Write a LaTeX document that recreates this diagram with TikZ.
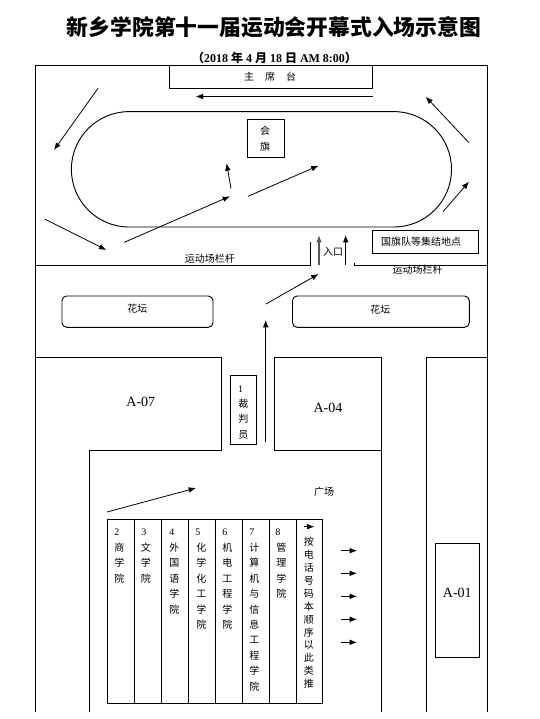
\documentclass[tikz,border=0pt]{standalone}
\usepackage{fontspec}
\setmainfont{Liberation Serif}
\newfontfamily\cjk{Noto Sans CJK SC}
\usetikzlibrary{arrows.meta}
\tikzset{
  wall/.style={draw=black,line width=0.7pt},
  boxed/.style={draw=black,line width=0.7pt},
  flow/.style={draw=black,line width=0.6pt,-{Latex[length=5.5pt,width=4.2pt]}},
  lab/.style={font=\cjk\fontsize{7.5}{9}\selectfont,inner sep=0pt},
  area/.style={font=\fontsize{10.5}{12}\selectfont,inner sep=0pt},
  num/.style={font=\fontsize{7.5}{9}\selectfont,inner sep=0pt,anchor=north west},
  stack/.style={font=\cjk\fontsize{7.5}{11.6}\selectfont,align=left,anchor=north west,inner sep=0pt},
  stackb/.style={font=\cjk\fontsize{7.5}{9.68}\selectfont,align=left,anchor=north west,inner sep=0pt}
}
\begin{document}
\begin{tikzpicture}[x=0.75pt,y=-0.75pt]
\useasboundingbox (0,0) rectangle (540,719);
% title
\node[inner sep=0pt,font=\cjk\bfseries\fontsize{16.35}{20}\selectfont] (title) at (274,27) {新乡学院第十一届运动会开幕式入场示意图};
\node[inner sep=0pt,font=\bfseries\fontsize{9}{10}\selectfont] (sub) at (274.5,57.7) {{\cjk（}2018 {\cjk 年} 4 {\cjk 月} 18 {\cjk 日} AM 8:00{\cjk ）}};
% outer walls
\draw[wall] (35.5,712) -- (35.5,65.3) -- (487,65.3) -- (487,712);
% grandstand
\draw[boxed] (169,65.3) rectangle (372.5,88.5);
\node[lab] (tai1) at (249,77) {主};
\node[lab] (tai2) at (270,77) {席};
\node[lab] (tai3) at (291,77) {台};
% track
\draw[line width=0.7pt,rounded corners=43.2pt] (71.4,111.6) rectangle (451.5,227);
% flag
\draw[boxed] (247.5,119.3) rectangle (284,157.3);
\node[lab] (qi1) at (265,131) {会};
\node[lab] (qi2) at (265,147) {旗};
% arrows in the field
\draw[flow] (372.5,96.5) -- (195.7,96.5);
\draw[flow] (98,88.3) -- (54,150);
\draw[flow] (469,142.7) -- (425.7,96.7);
\draw[flow] (231,188.7) -- (226.6,163.3);
\draw[flow] (248,196.3) -- (318.6,165.7);
\draw[flow] (124.3,242.3) -- (230,196.3);
\draw[flow] (443,211.7) -- (469,181.7);
\draw[flow] (44.6,219) -- (106.4,250);
% fence
\draw[wall] (35.5,265.3) -- (310.7,265.3) -- (310.7,242.3);
\draw[wall] (354.3,263.3) -- (354.3,265.3) -- (487,265.3);
\node[lab] (fence1) at (209.8,258.3) {运动场栏杆};
\node[lab] (fence2) at (417.5,270) {运动场栏杆};
% entrance
\draw[flow,line width=0.9pt,draw=black!65] (319,265.3) -- (319,235);
\draw[flow] (345.7,265.3) -- (345.7,235);
\node[lab] (gate) at (333,251.7) {入口};
% assembly point
\draw[boxed] (372.5,230.3) rectangle (478,253.3);
\node[lab] (assembly) at (421,241.7) {国旗队等集结地点};
% flower beds
\draw[boxed,rounded corners=3.5pt] (62,296) rectangle (213,327.3);
\draw[boxed,rounded corners=3.5pt] (292.5,296) rectangle (469.3,327.3);
\node[lab] (bed1) at (137.3,308.7) {花坛};
\node[lab] (bed2) at (380.4,309.3) {花坛};
\draw[flow] (266,304) -- (318.6,274);
\draw[flow] (265.7,442.3) -- (265.7,320);
% buildings
\draw[wall] (35.5,357.3) -- (221.8,357.3) -- (221.8,450) -- (89,450) -- (89,712);
\draw[wall] (381,712) -- (381,357.3) -- (274.6,357.3) -- (274.6,450) -- (381,450);
\draw[wall] (426,712) -- (426,357.3) -- (487,357.3);
\node[area] (a07) at (140.8,402) {A-07};
\node[area] (a04) at (327.9,408.3) {A-04};
\draw[boxed] (435.3,543.3) rectangle (479.3,657.3);
\node[area] (a01) at (457.3,593.3) {A-01};
% referee
\draw[boxed] (230.7,375.3) rectangle (256.8,444.7);
\node[num] (n1) at (237.8,385.5) {1};
\node[stack] (c1) at (238,398.5) {裁\\判\\员};
% square
\node[lab] (square) at (324,492) {广场};
\draw[flow] (107,512) -- (196,488);
% table
\draw[boxed] (107,519.3) rectangle (322,703.3);
\foreach \x in {134.3,161.5,188,215,242.3,269,296}{\draw[boxed] (\x,519.3) -- (\x,703.3);}
\node[num] (n2) at (114,529) {2};
\node[stack] (c2) at (114,542.5) {商\\学\\院};
\node[num] (n3) at (141,529) {3};
\node[stack] (c3) at (140.5,542.5) {文\\学\\院};
\node[num] (n4) at (169,529) {4};
\node[stack] (c4) at (169,542.5) {外\\国\\语\\学\\院};
\node[num] (n5) at (195,529) {5};
\node[stack] (c5) at (196,542.5) {化\\学\\化\\工\\学\\院};
\node[num] (n6) at (222,529) {6};
\node[stack] (c6) at (222,542.5) {机\\电\\工\\程\\学\\院};
\node[num] (n7) at (249,529) {7};
\node[stack] (c7) at (249,542.5) {计\\算\\机\\与\\信\\息\\工\\程\\学\\院};
\node[num] (n8) at (275,529) {8};
\node[stack] (c8) at (276,542.5) {管\\理\\学\\院};
\coordinate (t1) at (304,526.7);
\coordinate (t2) at (314.4,526.7);
\draw[flow] (t1) -- (t2);
\node[stackb] (c9) at (303.5,537) {按\\电\\话\\号\\码\\本\\顺\\序\\以\\此\\类\\推};
% right arrows
\foreach \y in {550.7,573.3,596.3,619.3,642.3}{\draw[flow] (341,\y) -- (357,\y);}
\end{tikzpicture}
\end{document}
